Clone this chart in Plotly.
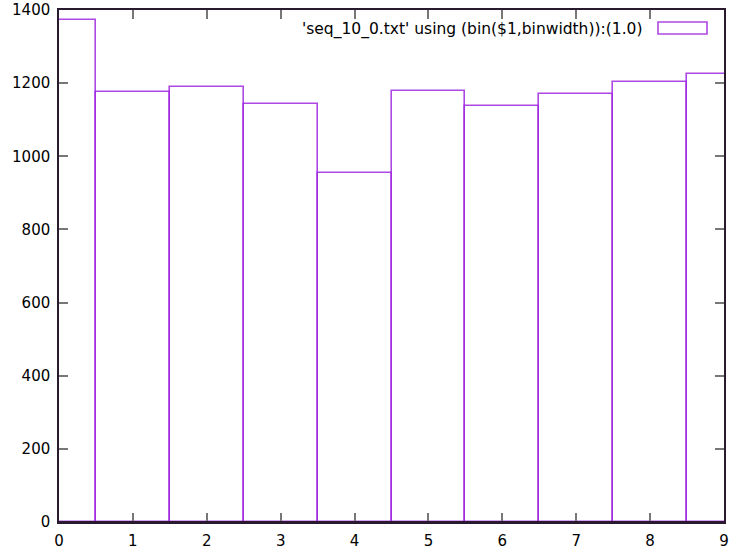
import plotly.graph_objects as go

categories = [0, 1, 2, 3, 4, 5, 6, 7, 8, 9]
counts = [1374, 1177, 1190, 1144, 954, 1178, 1137, 1170, 1204, 1224]
legend_label = "'seq_10_0.txt' using (bin($1,binwidth)):(1.0)"
x_ticks = [0, 1, 2, 3, 4, 5, 6, 7, 8, 9]
y_ticks = [0, 200, 400, 600, 800, 1000, 1200, 1400]

line_color = "rgba(160,40,225,0.85)"
axis_color = "#2a1a30"
tick_font = dict(family="DejaVu Sans", size=15, color="#000000")
legend_font = dict(family="DejaVu Sans", size=15.5, color="#000000")

fig = go.Figure()
fig.add_trace(go.Bar(
    x=categories, y=counts, width=1.0,
    marker=dict(color="rgba(0,0,0,0)", line=dict(color=line_color, width=1.6)),
    showlegend=False, hoverinfo="x+y",
))

axis_common = dict(
    showgrid=False, zeroline=False, showline=True, linecolor=axis_color, linewidth=1.5,
    mirror="allticks", ticks="inside", ticklen=9, tickcolor="#777777", tickwidth=1.5,
    tickfont=tick_font, automargin=False, ticklabeloverflow="allow", layer="above traces",
)
fig.update_xaxes(range=[0, 9], tickvals=x_ticks, ticktext=[str(v) for v in x_ticks],
                 ticklabelstandoff=4, **axis_common)
fig.update_yaxes(range=[0, 1400], tickvals=y_ticks, ticktext=[str(v) for v in y_ticks],
                 ticklabelstandoff=4, **axis_common)

# dark baseline drawn over the bars' bottom edges (as in the gnuplot frame)
fig.add_shape(type="line", xref="paper", yref="paper", x0=0, x1=1, y0=0, y1=0,
              line=dict(color=axis_color, width=1.8), layer="above")

fig.add_annotation(
    x=(645 - 59) / (724 - 59), y=(522 - 29) / (522 - 10), xref="paper", yref="paper",
    text=legend_label, showarrow=False, xanchor="right", yanchor="middle", font=legend_font,
)
fig.add_shape(
    type="rect", xref="paper", yref="paper",
    x0=(658 - 59) / 665, x1=(707 - 59) / 665,
    y0=(522 - 34) / 512, y1=(522 - 22) / 512,
    line=dict(color=line_color, width=1.6), fillcolor="rgba(0,0,0,0)",
)

fig.update_layout(
    width=732, height=559,
    margin=dict(l=59, r=8, t=10, b=37, autoexpand=False),
    plot_bgcolor="white", paper_bgcolor="white",
    font=tick_font, bargap=0,
)

fig.write_html("out.html", config={"displayModeBar": False},
               post_script="document.body.style.margin='0';")
